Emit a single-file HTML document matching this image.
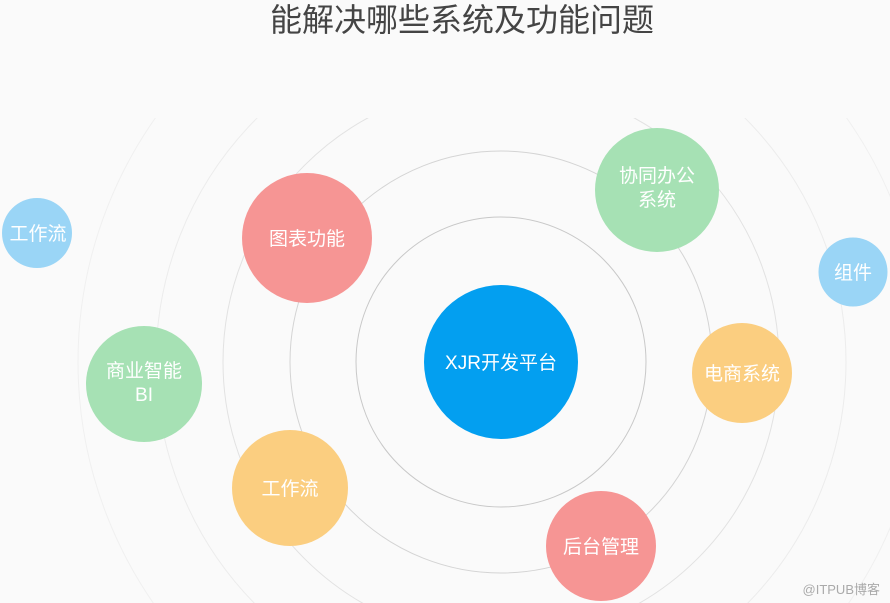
<!DOCTYPE html>
<html><head><meta charset="utf-8"><style>
html,body{margin:0;padding:0;background:#fafafa;width:890px;height:603px;overflow:hidden;}
body{position:relative;font-family:"Liberation Sans","Noto Sans CJK SC",sans-serif;}
svg{display:block;}
</style></head><body>
<svg width="890" height="603" viewBox="0 0 890 603" style="position:absolute;left:0;top:0">
<defs><clipPath id="c"><rect x="0" y="118" width="890" height="485"/></clipPath></defs>
<rect width="890" height="603" fill="#fafafa"/>
<g fill="none" clip-path="url(#c)">
<circle cx="501" cy="362" r="423" stroke="#f0f0f0" stroke-width="1"/>
<circle cx="501" cy="362" r="345" stroke="#ececec" stroke-width="1"/>
<circle cx="501" cy="362" r="278" stroke="#e2e2e2" stroke-width="1"/>
<circle cx="501" cy="362" r="211" stroke="#d4d4d4" stroke-width="1"/>
<circle cx="501" cy="362" r="145" stroke="#c8c8c8" stroke-width="1"/>
</g>
<circle cx="501" cy="362" r="77" fill="#039ff0"/>
<circle cx="307" cy="238" r="65" fill="#f69594"/>
<circle cx="657" cy="190" r="62" fill="#a6e1b4"/>
<circle cx="853" cy="272" r="34.5" fill="#9ad5f6"/>
<circle cx="37" cy="233" r="35" fill="#9ad5f6"/>
<circle cx="144" cy="384" r="58" fill="#a6e1b4"/>
<circle cx="290" cy="488" r="58" fill="#fbce80"/>
<circle cx="742" cy="373" r="50" fill="#fbce80"/>
<circle cx="601" cy="546" r="55" fill="#f69594"/>
<g fill="#fff" font-family="Liberation Sans,Noto Sans CJK SC,sans-serif" font-size="19" text-anchor="middle">
<text x="501" y="369">XJR开发平台</text>
<text x="307" y="245">图表功能</text>
<text x="657" y="182">协同办公</text>
<text x="657" y="206">系统</text>
<text x="853" y="279">组件</text>
<text x="38" y="240">工作流</text>
<text x="144" y="377">商业智能</text>
<text x="144" y="401">BI</text>
<text x="290" y="495">工作流</text>
<text x="742" y="380">电商系统</text>
<text x="601" y="553">后台管理</text>
</g>
<text x="462" y="31" text-anchor="middle" font-size="32" fill="#444" font-family="Liberation Sans,Noto Sans CJK SC,sans-serif">能解决哪些系统及功能问题</text>
<text x="880" y="594" text-anchor="end" font-size="13" fill="#aaa" font-family="Liberation Sans,Noto Sans CJK SC,sans-serif">@ITPUB博客</text>
</svg>
</body></html>
